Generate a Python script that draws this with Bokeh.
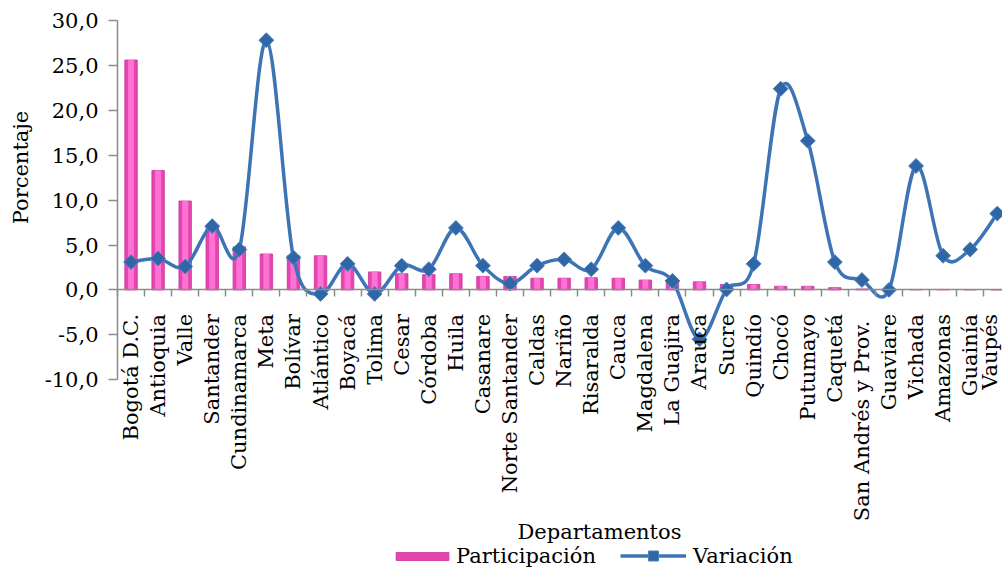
import numpy as np
from math import pi
from bokeh.plotting import figure
from bokeh.models import (ColumnDataSource, Range1d, FixedTicker, Label, Legend, LegendItem)
from bokeh.embed import file_html
from bokeh.resources import INLINE

# ---------------- data ----------------
departamentos = ["Bogotá D.C.", "Antioquia", "Valle", "Santander", "Cundinamarca", "Meta",
                 "Bolívar", "Atlántico", "Boyacá", "Tolima", "Cesar", "Córdoba", "Huila",
                 "Casanare", "Norte Santander", "Caldas", "Nariño", "Risaralda", "Cauca",
                 "Magdalena", "La Guajira", "Arauca", "Sucre", "Quindío", "Chocó", "Putumayo",
                 "Caquetá", "San Andrés  y Prov.", "Guaviare", "Vichada", "Amazonas", "Guainía",
                 "Vaupés"]
participacion = [25.6, 13.3, 9.9, 7.1, 4.8, 4.0, 3.8, 3.8, 2.8, 2.0, 1.8, 1.7, 1.8, 1.5,
                 1.5, 1.3, 1.3, 1.35, 1.3, 1.1, 1.0, 0.9, 0.6, 0.6, 0.4, 0.4, 0.25, 0.1,
                 0.05, 0.05, 0.05, 0.03, 0.02]
variacion = [3.1, 3.5, 2.6, 7.1, 4.5, 27.8, 3.6, -0.45, 2.9, -0.45, 2.7, 2.3, 6.9, 2.7,
             0.7, 2.7, 3.4, 2.3, 6.9, 2.7, 1.0, -5.5, 0.05, 2.9, 22.4, 16.6, 3.1, 1.1,
             0.0, 13.8, 3.8, 4.5, 8.5]
y_ticks = [-10, -5, 0, 5, 10, 15, 20, 25, 30]
y_tick_labels = ["-10,0", "-5,0", "0,0", "5,0", "10,0", "15,0", "20,0", "25,0", "30,0"]

FONT = "DejaVu Serif"
n = len(departamentos)
idx = np.arange(n, dtype=float)

# ---------------- figure ----------------
W, H = 1002, 574
PXX, PXY = 27.07, 8.98          # pixels per data unit
X_LEFT, Y_ZERO = 117.0, 289.4   # pixel position of the left plot edge and of y = 0
x_start = -0.5 - X_LEFT / PXX
x_end = -0.5 + (W - X_LEFT) / PXX
y_end = Y_ZERO / PXY
y_start = -(H - Y_ZERO) / PXY

p = figure(width=W, height=H, output_backend="svg", toolbar_location=None,
           x_range=Range1d(x_start, x_end), y_range=Range1d(y_start, y_end),
           min_border_left=0, min_border_right=0, min_border_top=0, min_border_bottom=0)
p.outline_line_color = None
p.grid.visible = False
p.background_fill_color = "white"
p.border_fill_color = "white"

# bars
src = ColumnDataSource(dict(x=idx, part=participacion, var=variacion))
bars = p.vbar(x="x", top="part", bottom=0, width=0.46, source=src,
              fill_color="#E545B0", line_color="#C8359A", line_width=0.8)
p.vbar(x="x", top="part", bottom=0, width=0.22, source=src,
       fill_color="#FF72D3", line_color=None)

# smoothed line (Excel-like Catmull-Rom -> cubic Bezier)
v = np.array(variacion, dtype=float)
prev_x = np.concatenate([[idx[0]], idx[:-2]])
prev_y = np.concatenate([[v[0]], v[:-2]])
next_x = np.concatenate([idx[2:], [idx[-1]]])
next_y = np.concatenate([v[2:], [v[-1]]])
x0, y0 = idx[:-1], v[:-1]
x1, y1 = idx[1:], v[1:]
bz = ColumnDataSource(dict(
    x0=x0, y0=y0, x1=x1, y1=y1,
    cx0=x0 + (x1 - prev_x) / 6.0, cy0=y0 + (y1 - prev_y) / 6.0,
    cx1=x1 - (next_x - x0) / 6.0, cy1=y1 - (next_y - y0) / 6.0))
curve = p.bezier(x0="x0", y0="y0", x1="x1", y1="y1", cx0="cx0", cy0="cy0", cx1="cx1",
                 cy1="cy1", source=bz, line_color="#3D74B5", line_width=3.5)
marks = p.scatter(x="x", y="var", source=src, marker="square", angle=pi / 4, size=10.5,
                  fill_color="#2F66A6", line_color="#4C80C0", line_width=1)

# ---------------- axes ----------------
xa = p.xaxis[0]
xa.fixed_location = 0
xa.bounds = (-0.5, n - 0.5)
xa.ticker = FixedTicker(ticks=list(range(n)), minor_ticks=[i - 0.5 for i in range(n + 1)])
xa.major_label_overrides = {i: name for i, name in enumerate(departamentos)}
xa.major_label_orientation = pi / 2
xa.major_tick_out = 0
xa.major_tick_in = 0
xa.minor_tick_out = 7
xa.minor_tick_in = 0
xa.minor_tick_line_color = "#8C8C8C"
xa.minor_tick_line_width = 1.5
xa.axis_line_color = "#8C8C8C"
xa.axis_line_width = 1.5
xa.major_label_text_font = FONT
xa.major_label_text_font_size = "21px"
xa.major_label_text_color = "black"
xa.major_label_standoff = 17

ya = p.yaxis[0]
ya.fixed_location = -0.5
ya.bounds = (-10, 30)
ya.ticker = FixedTicker(ticks=y_ticks, minor_ticks=[])
ya.major_label_overrides = {t: lab for t, lab in zip(y_ticks, y_tick_labels)}
ya.major_tick_out = 9
ya.major_tick_in = 0
ya.major_tick_line_color = "#8C8C8C"
ya.major_tick_line_width = 1.5
ya.axis_line_color = "#8C8C8C"
ya.axis_line_width = 1.5
ya.major_label_text_font = FONT
ya.major_label_text_font_size = "21px"
ya.major_label_text_color = "black"
ya.major_label_standoff = 10

# axis titles and source note
p.add_layout(Label(x=-0.5 - (X_LEFT - 20) / PXX, y=(Y_ZERO - 167) / PXY, text="Porcentaje",
                   angle=pi / 2, text_font=FONT, text_font_size="21px", text_color="black",
                   text_align="center", text_baseline="middle"))
p.add_layout(Label(x=-0.5 + (599 - X_LEFT) / PXX, y=(Y_ZERO - 531) / PXY, text="Departamentos",
                   text_font=FONT, text_font_size="21px", text_color="black",
                   text_align="center", text_baseline="middle"))
p.add_layout(Label(x=-0.5 - (X_LEFT - 22) / PXX, y=(Y_ZERO - 569) / PXY, text="Fuente: DANE",
                   text_font=FONT, text_font_size="20px", text_color="black",
                   text_align="left", text_baseline="top"))

# legends (two, so each symbol gets its own size)
common = dict(orientation="horizontal", padding=0, margin=0, border_line_color=None,
              background_fill_alpha=0, label_text_font=FONT, label_text_font_size="21px",
              label_text_color="black")
leg1 = Legend(items=[LegendItem(label="Participación", renderers=[bars])],
              location=(389, 6), glyph_width=66, glyph_height=10, label_standoff=1, **common)
leg2 = Legend(items=[LegendItem(label="Variación", renderers=[curve, marks])],
              location=(620, 6), glyph_width=66, glyph_height=25, label_standoff=7, **common)
p.add_layout(leg1, "center")
p.add_layout(leg2, "center")

open("out.html", "w").write(file_html(p, INLINE))
